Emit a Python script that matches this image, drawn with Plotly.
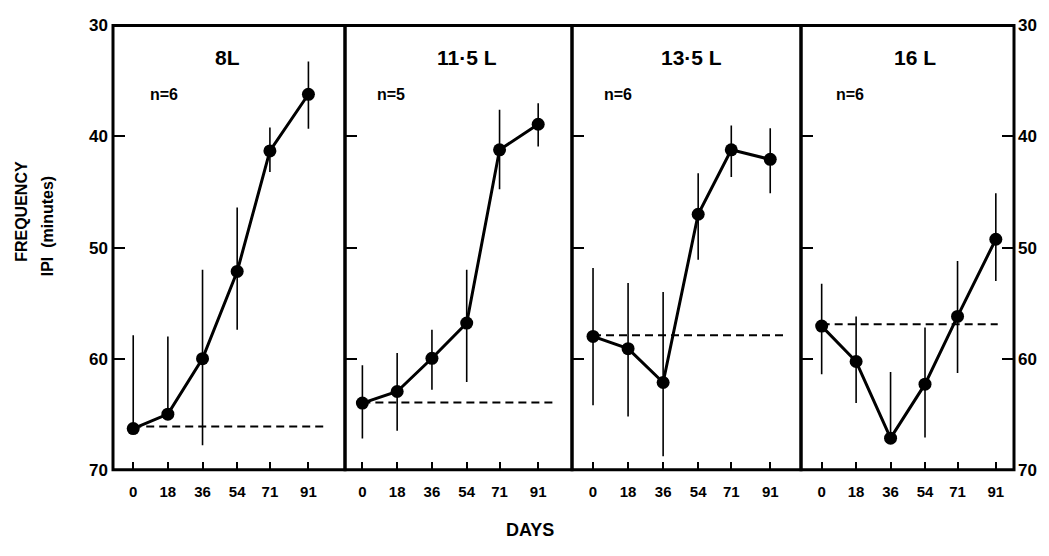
import plotly.graph_objects as go

W, H = 1049, 556

days = [0, 18, 36, 54, 71, 91]
day_labels = ["0", "18", "36", "54", "71", "91"]
panel_titles = ["8L", "11·5 L", "13·5 L", "16 L"]
n_labels = ["n=6", "n=5", "n=6", "n=6"]

# mean IPI (minutes) and error-bar extents per photoperiod
ipi_8L = [66.3, 65.0, 60.0, 52.15, 41.3, 36.2]
lo_8L = [57.9, 58.0, 52.0, 46.4, 39.2, 33.25]
hi_8L = [66.3, 65.0, 67.8, 57.4, 43.2, 39.3]

ipi_115L = [64.0, 62.96, 59.97, 56.8, 41.2, 38.9]
lo_115L = [60.6, 59.5, 57.4, 52.0, 37.6, 37.0]
hi_115L = [67.2, 66.5, 62.8, 62.1, 44.75, 40.9]

ipi_135L = [58.0, 59.1, 62.15, 47.0, 41.2, 42.06]
lo_135L = [51.85, 53.2, 54.0, 43.3, 39.0, 39.25]
hi_135L = [64.2, 65.2, 68.8, 51.1, 43.65, 45.1]

ipi_16L = [57.07, 60.26, 67.16, 62.3, 56.2, 49.25]
lo_16L = [53.25, 56.2, 61.2, 57.2, 51.2, 45.1]
hi_16L = [61.4, 64.0, 67.16, 67.1, 61.3, 53.0]

baseline = [66.1, 63.95, 57.9, 56.9]
baseline_end = [100, 98.5, 100, 92]

y_ticks = [30, 40, 50, 60, 70]

series = [(ipi_8L, lo_8L, hi_8L), (ipi_115L, lo_115L, hi_115L),
          (ipi_135L, lo_135L, hi_135L), (ipi_16L, lo_16L, hi_16L)]

# layout geometry (pixels)
dom_px = [(113, 345), (345, 572), (572, 801), (801, 1014)]
x_ranges = [(-10.5, 110), (-9, 108.5), (-10.8, 106.8), (-10.8, 100.5)]
title_cx = [227, 467, 691, 915]
n_cx = [164, 391, 618, 850]
top_px, bot_px = 17, 477
ydom = [1 - bot_px / H, 1 - top_px / H]

FONT = "Liberation Sans"
fig = go.Figure()

for i, (ipi, lo, hi) in enumerate(series):
    k = "" if i == 0 else str(i + 1)
    xa, ya = "x" + k, "y" + k
    plus = [h - m for h, m in zip(hi, ipi)]
    minus = [m - l for m, l in zip(ipi, lo)]
    fig.add_trace(go.Scatter(
        x=[0, baseline_end[i]], y=[baseline[i], baseline[i]], mode="lines",
        line=dict(color="black", width=2, dash="8px,5px"),
        xaxis=xa, yaxis=ya, showlegend=False, hoverinfo="skip"))
    fig.add_trace(go.Scatter(
        x=days, y=ipi, mode="lines+markers",
        line=dict(color="black", width=3),
        marker=dict(color="black", size=13),
        error_y=dict(type="data", symmetric=False, array=plus, arrayminus=minus,
                     width=0, thickness=1.6, color="black"),
        xaxis=xa, yaxis=ya, showlegend=False))

    d0, d1 = dom_px[i]
    fig.layout["xaxis" + k] = dict(
        domain=[d0 / W, d1 / W], range=list(x_ranges[i]), anchor=ya,
        tickmode="array", tickvals=days, ticktext=day_labels,
        ticks="inside", ticklen=8, tickwidth=1.5, tickcolor="black",
        showline=False, showgrid=False, zeroline=False, ticklabelstandoff=11,
        tickfont=dict(family=FONT, size=15, color="black", weight="bold"))
    yax = dict(
        domain=ydom, range=[70, 30], anchor=xa,
        tickmode="array", tickvals=y_ticks,
        ticks="inside", ticklen=12, tickwidth=1.5, tickcolor="black",
        showline=False, showgrid=False, zeroline=False, showticklabels=False,
        tickfont=dict(family=FONT, size=17, color="black", weight="bold"))
    if i == 0:
        yax["showticklabels"] = True
        yax["ticklabelstandoff"] = 4
    if i == 3:
        yax["side"] = "right"
        yax["mirror"] = "ticks"
        yax["showticklabels"] = True
        yax["ticklabelstandoff"] = 3
    fig.layout["yaxis" + k] = yax

    fig.add_annotation(x=title_cx[i] / W, y=1 - 50 / H, xref="paper", yref="paper",
                       text=panel_titles[i], showarrow=False,
                       xanchor="center", yanchor="middle",
                       font=dict(family=FONT, size=21, color="black", weight="bold"))
    fig.add_annotation(x=n_cx[i] / W, y=1 - 89 / H, xref="paper", yref="paper",
                       text=n_labels[i], showarrow=False,
                       xanchor="center", yanchor="middle",
                       font=dict(family=FONT, size=16, color="black", weight="bold"))

# panel frames
for x0, x1 in dom_px:
    fig.add_shape(type="rect", xref="paper", yref="paper",
                  x0=x0 / W, x1=x1 / W, y0=ydom[0], y1=ydom[1],
                  line=dict(color="black", width=3), fillcolor="rgba(0,0,0,0)")

fig.add_annotation(x=22 / W, y=1 - 210 / H, xref="paper", yref="paper",
                   text="FREQUENCY", textangle=-90, showarrow=False,
                   xanchor="center", yanchor="middle",
                   font=dict(family=FONT, size=16, color="black", weight="bold"))
fig.add_annotation(x=47 / W, y=1 - 225 / H, xref="paper", yref="paper",
                   text="IPI&nbsp;&nbsp;(minutes)", textangle=-90, showarrow=False,
                   xanchor="center", yanchor="middle",
                   font=dict(family=FONT, size=16, color="black", weight="bold"))
fig.add_annotation(x=530 / W, y=1 - 539 / H, xref="paper", yref="paper",
                   text="DAYS", showarrow=False,
                   xanchor="center", yanchor="middle",
                   font=dict(family=FONT, size=18, color="black", weight="bold"))

fig.update_layout(width=W, height=H, margin=dict(l=0, r=0, t=0, b=0),
                  paper_bgcolor="white", plot_bgcolor="white")

fig.write_html("out.html")
